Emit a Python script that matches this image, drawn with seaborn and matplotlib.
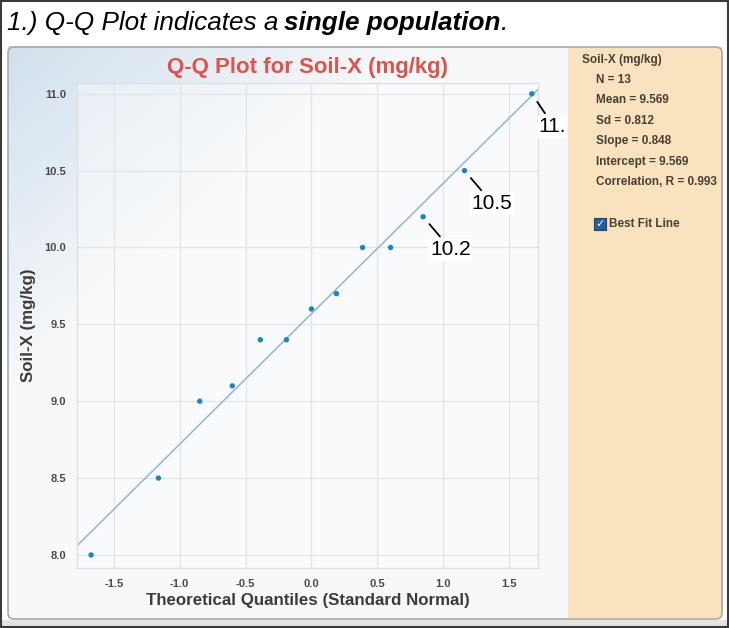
import numpy as np
import pandas as pd
import matplotlib
matplotlib.use("Agg")
import matplotlib.pyplot as plt
import seaborn as sns
from matplotlib.patches import Rectangle, FancyBboxPatch
from matplotlib.text import Annotation
from matplotlib.transforms import IdentityTransform

# Data
theoretical_q = [-1.673, -1.162, -0.848, -0.601, -0.388, -0.190, 0.0,
                 0.190, 0.388, 0.601, 0.848, 1.162, 1.673]
soil_x = [8.0, 8.5, 9.0, 9.1, 9.4, 9.4, 9.6, 9.7, 10.0, 10.0, 10.2, 10.5, 11.0]
slope = 0.848
intercept = 9.569
x_ticks = [-1.5, -1.0, -0.5, 0.0, 0.5, 1.0, 1.5]
y_ticks = [8.0, 8.5, 9.0, 9.5, 10.0, 10.5, 11.0]
stats_lines = ["N = 13", "Mean = 9.569", "Sd = 0.812", "Slope = 0.848",
               "Intercept = 9.569", "Correlation, R = 0.993"]
labelled = [(1.673, 11.0, "11."), (1.162, 10.5, "10.5"), (0.848, 10.2, "10.2")]

sns.set_theme(style="white")
plt.rcParams['font.family'] = ['Liberation Sans', 'DejaVu Sans']

W, H = 729, 628
fig = plt.figure(figsize=(W / 100, H / 100), dpi=100)
fig.patch.set_facecolor('white')


def fbox(x0, y0, x1, y1):
    """pixel box (top-left origin) -> figure fraction rect"""
    return [x0 / W, 1 - y1 / H, (x1 - x0) / W, (y1 - y0) / H]


# bottom grey strip and outer frame
fig.patches.append(Rectangle((0, 0), W, 8, transform=IdentityTransform(),
                             facecolor='#e4e4e4', edgecolor='none', zorder=0))
fig.patches.append(Rectangle((1, 1), W - 2, H - 2, transform=IdentityTransform(),
                             facecolor='none', edgecolor='#3a3a3a', lw=1.5, zorder=5))

# heading: regular part, then bold part chained after it
t1 = fig.text(7 / W, 1 - 30 / H, "1.) Q-Q Plot indicates a", fontsize=18.8, style='italic',
              va='baseline', ha='left', color='black')
t2 = Annotation("single population", xy=(1, 0), xycoords=t1, xytext=(6, 0),
                textcoords='offset pixels', fontsize=18.8, style='italic',
                fontweight='bold', va='bottom', ha='left', color='black')
fig.add_artist(t2)
t3 = Annotation(".", xy=(1, 0), xycoords=t2, fontsize=18.8, style='italic',
                va='bottom', ha='left', color='black')
fig.add_artist(t3)

# gradient background of chart panel
bg = fig.add_axes(fbox(8, 46, 570, 619), zorder=0)
gx, gy = np.meshgrid(np.linspace(0, 1, 200), np.linspace(0, 1, 200))
t = np.clip((gx * 0.9 + gy * 1.1) * 1.5, 0, 1)
top = np.array([0.82, 0.88, 0.93])
bot = np.array([0.97, 0.975, 0.98])
img = top[None, None, :] * (1 - t[..., None]) + bot[None, None, :] * t[..., None]
bg.imshow(img, aspect='auto', extent=[0, 1, 0, 1], origin='upper')
bg.set_axis_off()

# main axes
ax = fig.add_axes(fbox(77, 83, 538, 568), zorder=2)
ax.set_facecolor((1, 1, 1, 0.35))
df = pd.DataFrame({'q': theoretical_q, 'soil': soil_x})
ax.axline((0, intercept), slope=slope, color='#8db6de', lw=1.1, zorder=2)
sns.scatterplot(data=df, x='q', y='soil', ax=ax, color='#1587c4', s=15,
                edgecolor='none', zorder=3)
ax.set_xlim(-1.78, 1.72)
ax.set_ylim(7.915, 11.07)
ax.set_xticks(x_ticks)
ax.set_yticks(y_ticks)
ax.set_xticklabels([f"{v:.1f}" for v in x_ticks], fontsize=8, fontweight='bold', color='#4a4a4a')
ax.set_yticklabels([f"{v:.1f}" for v in y_ticks], fontsize=8, fontweight='bold', color='#4a4a4a')
ax.tick_params(length=0, pad=8)
ax.grid(True, color='#e2e4e8', lw=0.9)
for s in ax.spines.values():
    s.set_color('#dcdfe3')
    s.set_linewidth(1)
ax.set_xlabel("Theoretical Quantiles (Standard Normal)", fontsize=12.2, fontweight='bold',
              color='#3c3c3c', labelpad=3)
ax.set_ylabel("Soil-X (mg/kg)", fontsize=12.2, fontweight='bold', color='#3c3c3c', labelpad=6)
ax.set_title("Q-Q Plot for Soil-X (mg/kg)", fontsize=16, fontweight='bold',
             color='#e0524a', pad=7)

for xq, yv, lab in labelled:
    ax.annotate(lab, xy=(xq, yv), xytext=(7, -33), textcoords='offset pixels',
                fontsize=15, ha='left', va='center', color='black', zorder=6,
                bbox=dict(boxstyle='square,pad=0.08', facecolor='white', edgecolor='none'),
                arrowprops=dict(arrowstyle='-', color='black', lw=1.3,
                                shrinkA=2, shrinkB=7, relpos=(0.32, 1.0)),
                annotation_clip=False)

# side panel
side = fig.add_axes(fbox(568, 47, 722, 618), zorder=3)
side.set_facecolor('#f9e2be')
side.set_xticks([])
side.set_yticks([])
for s in side.spines.values():
    s.set_visible(False)

# panel border
fig.patches.append(FancyBboxPatch((8, 9), 714, 572, transform=IdentityTransform(),
                                  boxstyle="round,pad=0,rounding_size=6",
                                  facecolor='none', edgecolor='#a8a8a8', lw=1.2, zorder=4))

# side panel texts
narrow = ['Liberation Sans Narrow', 'Liberation Sans', 'DejaVu Sans']
txt_col = '#4a3f33'
fig.text(582 / W, 1 - 60 / H, "Soil-X (mg/kg)", fontsize=8.5, fontweight='bold',
         family=narrow, color=txt_col, va='center', zorder=6)
for i, line in enumerate(stats_lines):
    fig.text(596 / W, 1 - (80 + i * 20.4) / H, line, fontsize=8.5, fontweight='bold',
             family=narrow, color=txt_col, va='center', zorder=6)
fig.patches.append(Rectangle((594, H - 230), 12, 12, transform=IdentityTransform(),
                             facecolor='#1f5fa8', edgecolor='#27415f', lw=0.8, zorder=6))
fig.text(600 / W, 1 - 224 / H, "✓", fontsize=8, color='white', ha='center', va='center',
         family=['DejaVu Sans'], fontweight='bold', zorder=7)
fig.text(609 / W, 1 - 224 / H, "Best Fit Line", fontsize=8.5, fontweight='bold',
         family=narrow, color=txt_col, va='center', zorder=6)

fig.savefig("out.png", dpi=100)
